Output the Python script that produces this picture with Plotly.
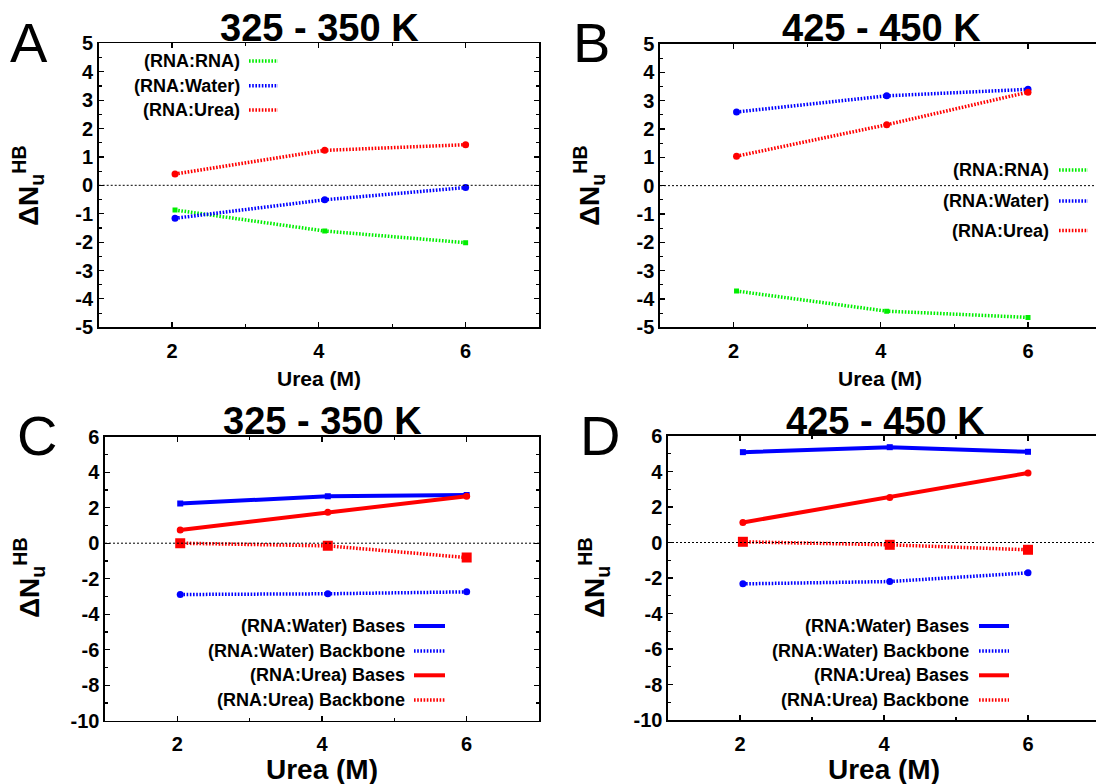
import plotly.graph_objects as go

# ---------------- data ----------------
urea = [2.04, 4.08, 6.0]

# Panel A: 325 - 350 K
a_rna_rna = [-0.87, -1.61, -2.02]
a_rna_water = [-1.16, -0.51, -0.08]
a_rna_urea = [0.40, 1.23, 1.43]

# Panel B: 425 - 450 K
b_rna_rna = [-3.72, -4.43, -4.65]
b_rna_water = [2.60, 3.17, 3.40]
b_rna_urea = [1.04, 2.15, 3.30]

# Panel C: 325 - 350 K
c_water_bases = [2.23, 2.65, 2.72]
c_water_backbone = [-2.89, -2.85, -2.74]
c_urea_bases = [0.75, 1.75, 2.65]
c_urea_backbone = [0.0, -0.15, -0.81]

# Panel D: 425 - 450 K
d_water_bases = [5.09, 5.37, 5.11]
d_water_backbone = [-2.33, -2.20, -1.71]
d_urea_bases = [1.13, 2.54, 3.92]
d_urea_backbone = [0.04, -0.13, -0.41]

x_tickvals = [2, 4, 6]
x_ticktext = ["2", "4", "6"]
y_ticks_top = [-5, -4, -3, -2, -1, 0, 1, 2, 3, 4, 5]
y_ticks_bottom = [-10, -8, -6, -4, -2, 0, 2, 4, 6]

legend_top = ["(RNA:RNA)", "(RNA:Water)", "(RNA:Urea)"]
legend_bottom = ["(RNA:Water) Bases", "(RNA:Water) Backbone",
                 "(RNA:Urea) Bases", "(RNA:Urea) Backbone"]

# ---------------- styling ----------------
W, H = 1096, 784
FONT = "Liberation Sans, Arial, sans-serif"
GREEN = "#00ee00"
BLUE = "#0000ff"
RED = "#ff0000"
DOT = "1.6px,1.6px"


def px(x):
    return x / W


def py(y):
    return 1 - y / H


fig = go.Figure()

panels = {
    "A": dict(xa="x", ya="y", xdom=[98.7, 539], ydom=[43.3, 327.3], xr=[1, 7]),
    "B": dict(xa="x2", ya="y2", xdom=[660, 1096], ydom=[44, 327.3], xr=[1, 1 + 436 / 73.6]),
    "C": dict(xa="x3", ya="y3", xdom=[105, 539], ydom=[436.7, 720.7], xr=[1, 7]),
    "D": dict(xa="x4", ya="y4", xdom=[668, 1096], ydom=[436, 720], xr=[1, 1 + 428 / 72.0]),
}


def add(panel, y, color, dash, width, symbol, size):
    p = panels[panel]
    fig.add_trace(go.Scatter(
        x=urea, y=y, mode="lines+markers",
        line=dict(color=color, dash=dash, width=width),
        marker=dict(color=color, symbol=symbol, size=size),
        xaxis=p["xa"], yaxis=p["ya"], showlegend=False, hoverinfo="skip"))


# Panel A
add("A", a_rna_rna, GREEN, DOT, 3.5, "square", 5)
add("A", a_rna_water, BLUE, DOT, 3.5, "circle", 7)
add("A", a_rna_urea, RED, DOT, 3.5, "circle", 7)
# Panel B
add("B", b_rna_rna, GREEN, DOT, 3.5, "square", 5)
add("B", b_rna_water, BLUE, DOT, 3.5, "circle", 7)
add("B", b_rna_urea, RED, DOT, 3.5, "circle", 7)
# Panel C
add("C", c_water_bases, BLUE, "solid", 4, "square", 6)
add("C", c_water_backbone, BLUE, DOT, 3.5, "circle", 7)
add("C", c_urea_bases, RED, "solid", 4, "circle", 7)
add("C", c_urea_backbone, RED, DOT, 3.5, "square", 10)
# Panel D
add("D", d_water_bases, BLUE, "solid", 4, "square", 6)
add("D", d_water_backbone, BLUE, DOT, 3.5, "circle", 7)
add("D", d_urea_bases, RED, "solid", 4, "circle", 7)
add("D", d_urea_backbone, RED, DOT, 3.5, "square", 10)

tickfont = dict(family=FONT, size=20, color="black", weight="bold")


def xaxis_cfg(p):
    return dict(domain=[px(p["xdom"][0]), px(p["xdom"][1])], range=p["xr"],
                anchor=p["ya"], automargin=False,
                showline=True, linecolor="black", linewidth=1.6,
                mirror="allticks", ticks="inside", ticklen=5, tickwidth=1.2,
                tickcolor="black", tickmode="array", tickvals=x_tickvals,
                ticktext=x_ticktext, tickfont=tickfont, ticklabelstandoff=5,
                showgrid=False, zeroline=False,
                minor=dict(tickmode="array", tickvals=[3, 5], ticks="inside",
                           ticklen=3, tickcolor="black", showgrid=False))


def yaxis_cfg(p, ticks, minor_vals, mirror):
    return dict(domain=[py(p["ydom"][1]), py(p["ydom"][0])],
                range=[ticks[0], ticks[-1]], anchor=p["xa"], automargin=False,
                showline=True, linecolor="black", linewidth=1.6,
                mirror="allticks" if mirror else False,
                ticks="inside", ticklen=5, tickwidth=1.2, tickcolor="black",
                tickmode="array", tickvals=ticks, ticktext=[str(t) for t in ticks],
                tickfont=tickfont, ticklabelstandoff=0, showgrid=False, zeroline=False,
                minor=dict(tickmode="array", tickvals=minor_vals, ticks="inside",
                           ticklen=3, tickcolor="black", showgrid=False))


minor_top = [v + 0.5 for v in y_ticks_top[:-1]]
minor_bottom = [v + 1 for v in y_ticks_bottom[:-1]]

layout = dict(
    width=W, height=H, margin=dict(l=0, r=0, t=0, b=0, pad=0, autoexpand=False),
    paper_bgcolor="white", plot_bgcolor="white", showlegend=False,
    xaxis=xaxis_cfg(panels["A"]), yaxis=yaxis_cfg(panels["A"], y_ticks_top, minor_top, True),
    xaxis2=xaxis_cfg(panels["B"]), yaxis2=yaxis_cfg(panels["B"], y_ticks_top, minor_top, False),
    xaxis3=xaxis_cfg(panels["C"]), yaxis3=yaxis_cfg(panels["C"], y_ticks_bottom, minor_bottom, True),
    xaxis4=xaxis_cfg(panels["D"]), yaxis4=yaxis_cfg(panels["D"], y_ticks_bottom, minor_bottom, False),
)
fig.update_layout(**layout)

shapes = []
annotations = []

# zero reference lines
for k, p in panels.items():
    shapes.append(dict(type="line", xref=p["xa"] + " domain", yref=p["ya"],
                       x0=0, x1=1, y0=0, y1=0,
                       line=dict(color="black", width=1, dash="2px,2px")))


def ann(text, x, y, size, bold=True, xanchor="center", angle=0):
    annotations.append(dict(
        text=text, x=px(x), y=py(y), xref="paper", yref="paper",
        xanchor=xanchor, yanchor="middle", showarrow=False, textangle=angle,
        font=dict(family=FONT, size=size, color="black",
                  weight="bold" if bold else "normal")))


# panel titles
ann("325 - 350 K", 319, 28, 38)
ann("425 - 450 K", 881, 28, 38)
ann("325 - 350 K", 322, 421, 38)
ann("425 - 450 K", 885, 421, 38)

# panel letters
ann("A", 29, 43, 56, bold=False)
ann("B", 591, 43, 56, bold=False)
ann("C", 37, 435, 56, bold=False)
ann("D", 600, 435, 56, bold=False)

# axis titles
ann("Urea (M)", 319, 378, 21)
ann("Urea (M)", 880, 378, 21)
ann("Urea (M)", 322, 769, 28)
ann("Urea (M)", 884, 769, 28)

ytitle = "ΔN<sub>u</sub><sup>HB</sup>"
ann(ytitle, 28, 186, 28, angle=-90)
ann(ytitle, 589, 186, 28, angle=-90)
ann(ytitle, 29, 578, 28, angle=-90)
ann(ytitle, 594, 578, 28, angle=-90)


# legends (text on left, sample on right)
def legend_entry(text, x_text_end, x0, x1, y, color, dash, width):
    ann(text, x_text_end, y, 18, xanchor="right")
    shapes.append(dict(type="line", xref="paper", yref="paper",
                       x0=px(x0), x1=px(x1), y0=py(y), y1=py(y),
                       line=dict(color=color, width=width, dash=dash)))


top_colors = [GREEN, BLUE, RED]
for lbl, c, y in zip(legend_top, top_colors, [61, 85.7, 110]):
    legend_entry(lbl, 242, 249, 278, y, c, DOT, 3.5)
for lbl, c, y in zip(legend_top, top_colors, [170, 201, 230.5]):
    legend_entry(lbl, 1051, 1059, 1088, y, c, DOT, 3.5)

bottom_styles = [(BLUE, "solid", 4), (BLUE, DOT, 3.5), (RED, "solid", 4), (RED, DOT, 3.5)]
for lbl, (c, d, w), y in zip(legend_bottom, bottom_styles, [626, 651, 675.3, 700]):
    legend_entry(lbl, 407, 414, 445, y, c, d, w)
    legend_entry(lbl, 971, 979, 1009, y, c, d, w)

fig.update_layout(shapes=shapes, annotations=annotations)

fig.write_html("out.html",
               config={"displayModeBar": False, "staticPlot": True},
               post_script="document.body.style.margin='0';document.body.style.overflow='hidden';")
